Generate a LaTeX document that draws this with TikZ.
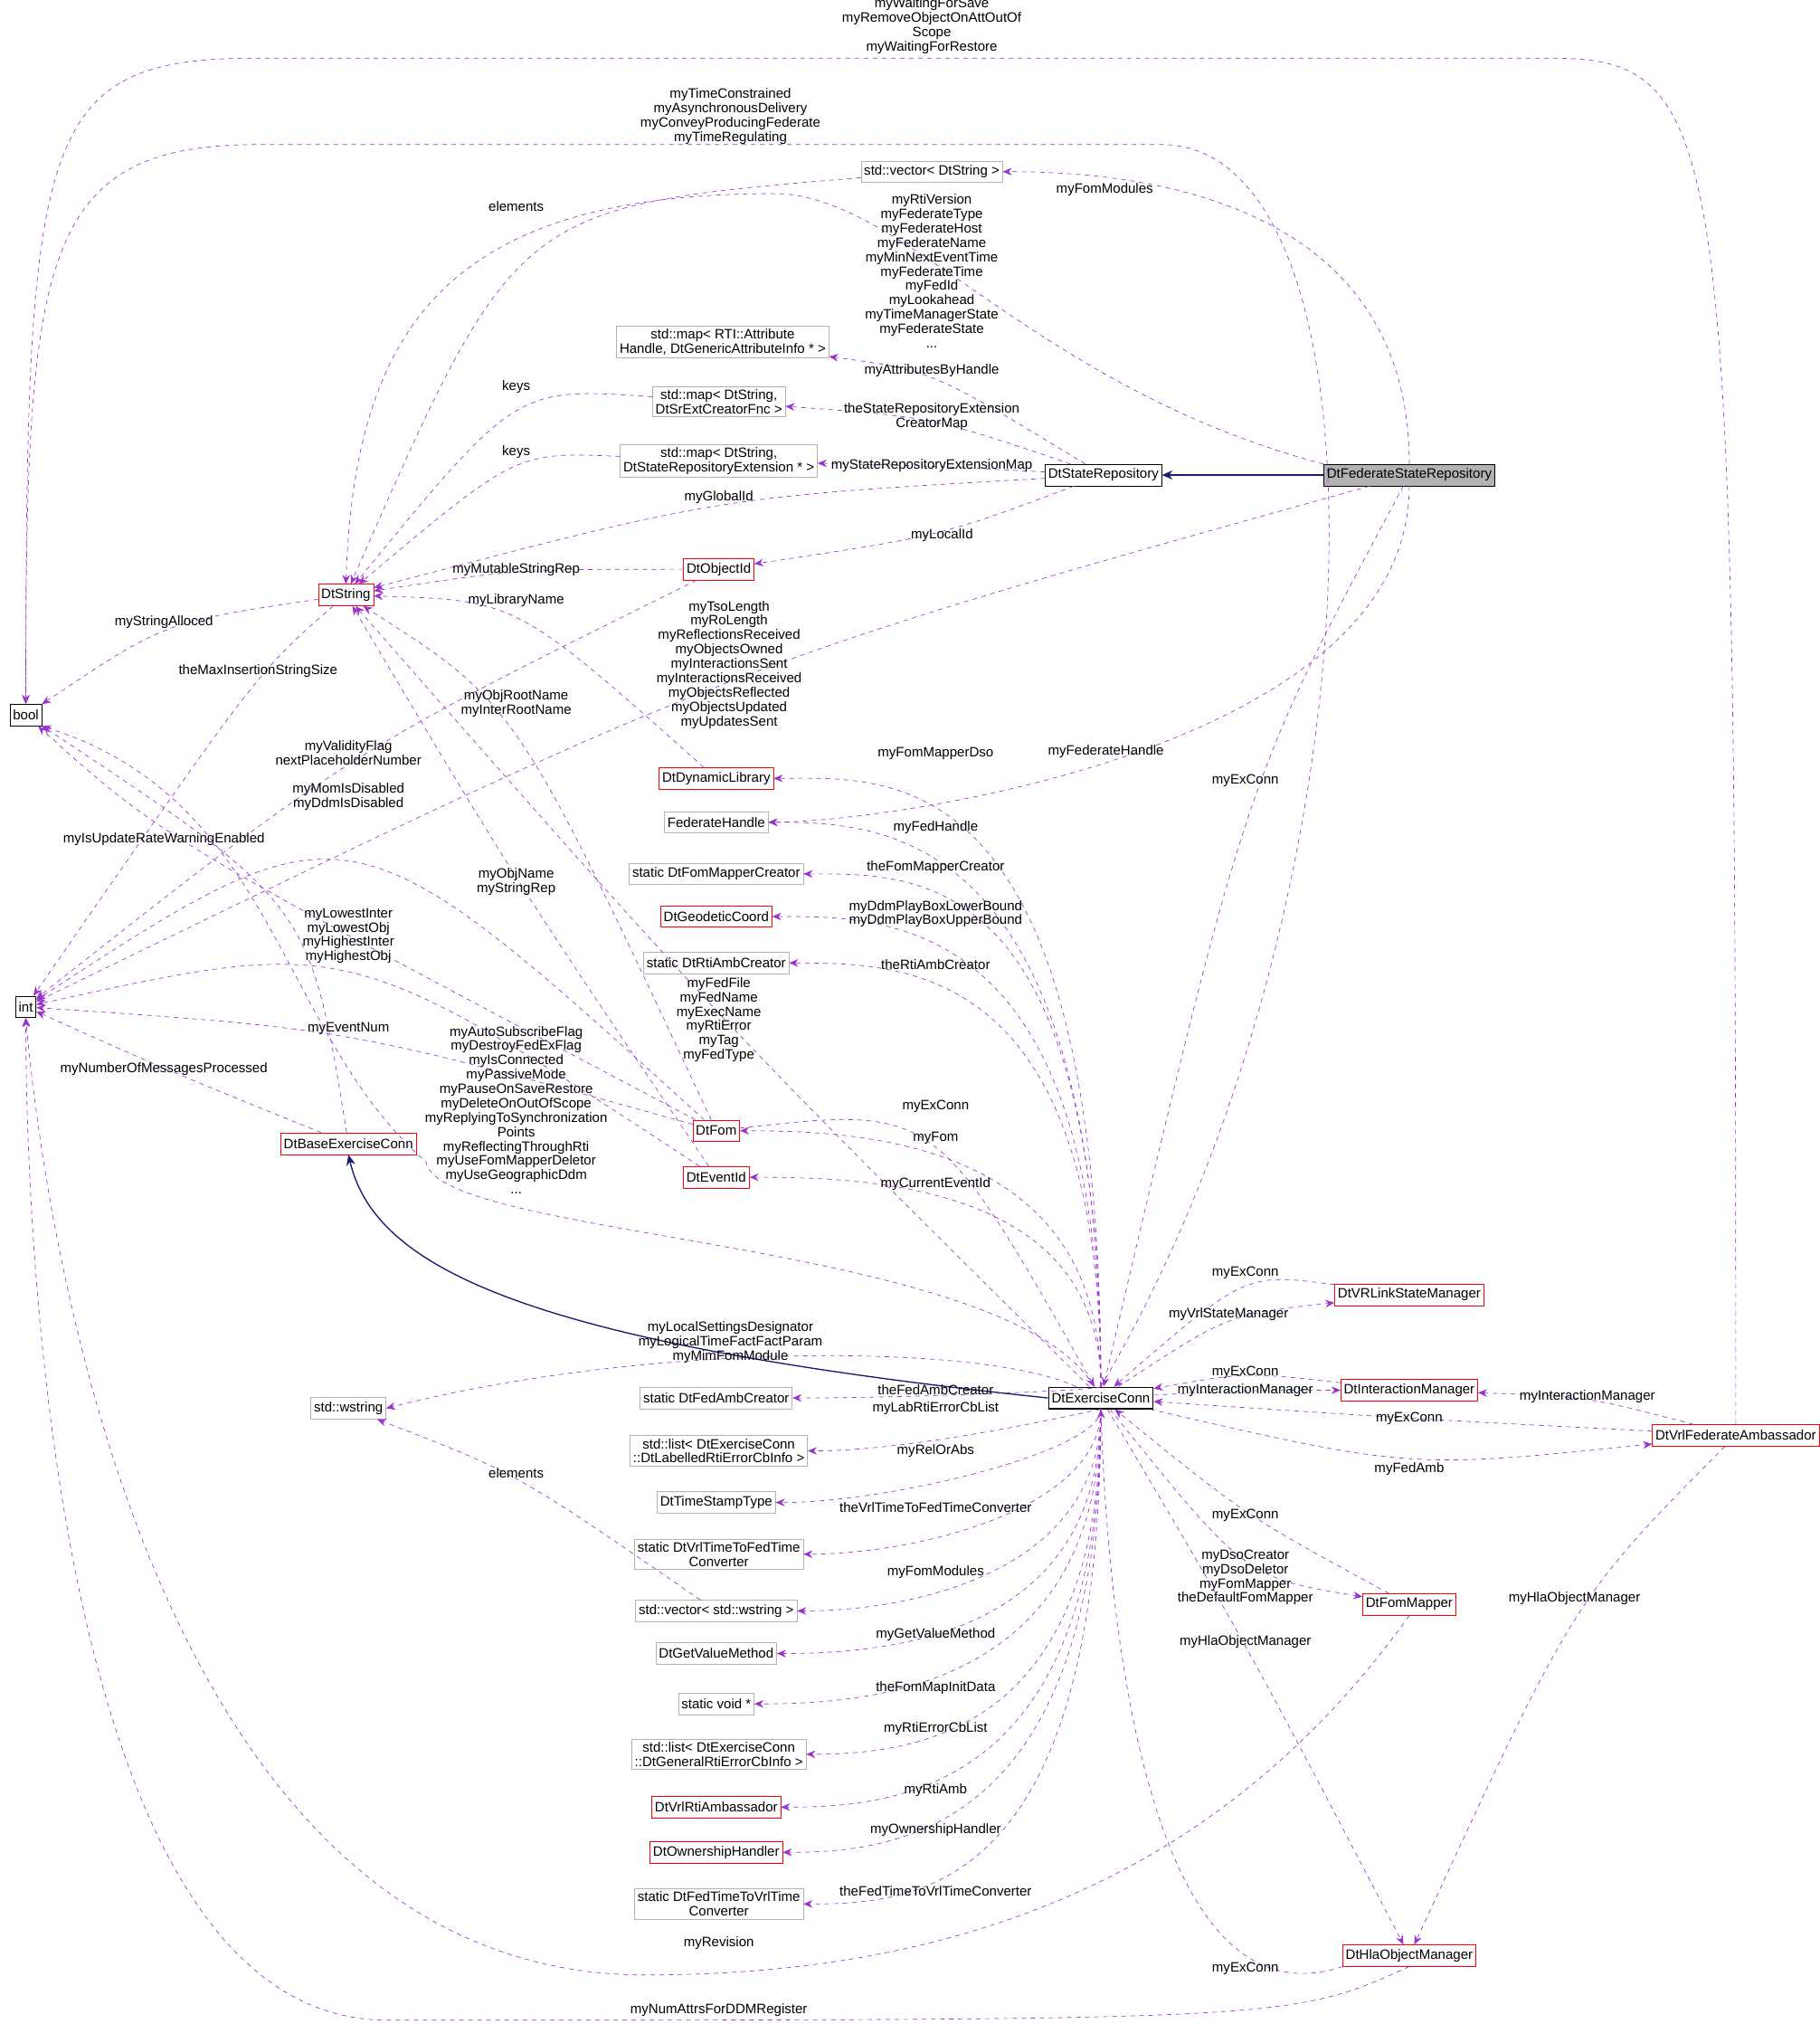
\documentclass[tikz,border=0pt]{standalone}
\usepackage{fontspec}
\setmainfont{Liberation Sans}
\usetikzlibrary{arrows.meta,calc}
\definecolor{dep}{HTML}{9A32CD}
\definecolor{inh}{HTML}{191970}
\tikzset{
 cls/.style={draw=black,fill=white,inner sep=2pt,minimum height=0.5cm,align=center},
 ext/.style={cls,draw=gray!60},
 bad/.style={cls,draw=red},
 lbl/.style={align=center,inner sep=0pt},
 dep/.style={draw=dep,dashed,-{Stealth[length=6pt,width=5pt]}},
 inherit/.style={draw=inh,thick,-{Stealth[length=7pt,width=6pt,open,fill=inh]}}
}
% dependency: from, to, label point, label
\newcommand{\dep}[4]{\draw[dep] (#1) .. controls (#3) .. (#2); \node[lbl] at (#3) {#4};}
% dependency entering the east side of its target
\newcommand{\depe}[4]{\draw[dep] (#1) .. controls (#1 |- #3) and ($(#2.east)+(90,0)$) .. (#2.east); \node[lbl] at (#3) {#4};}
\begin{document}
\begin{tikzpicture}[x=0.03cm,y=-0.03cm,font=\fontsize{9}{9.5}\selectfont]
 \useasboundingbox (0,0) rectangle (1410,1568);
 % classes
 \node[cls,fill=gray!60] (fsr) at (1092,368) {DtFederateStateRepository};
 \node[cls] (sr) at (855,368) {DtStateRepository};
 \node[ext] (vds) at (722,133) {std::vector< DtString >};
 \node[ext] (mah) at (560,265) {std::map< RTI::Attribute\\Handle, DtGenericAttributeInfo * >};
 \node[ext] (msc) at (557,311) {std::map< DtString,\\DtSrExtCreatorFnc >};
 \node[ext] (mse) at (557,357) {std::map< DtString,\\DtStateRepositoryExtension * >};
 \node[bad] (oid) at (557,441) {DtObjectId};
 \node[bad] (str) at (268,461) {DtString};
 \node[cls] (bool) at (20,554) {bool};
 \node[cls] (int) at (20,780) {int};
 \node[bad] (dyn) at (555,603) {DtDynamicLibrary};
 \node[ext] (fh) at (555,637) {FederateHandle};
 \node[ext] (fmc) at (555,677) {static DtFomMapperCreator};
 \node[bad] (geo) at (555,710) {DtGeodeticCoord};
 \node[ext] (rac) at (555,746) {static DtRtiAmbCreator};
 \node[bad] (fom) at (555,876) {DtFom};
 \node[bad] (eid) at (555,912) {DtEventId};
 \node[bad] (bec) at (270,886) {DtBaseExerciseConn};
 \node[cls,thick] (ec) at (853,1083) {DtExerciseConn};
 \node[ext] (ws) at (270,1091) {std::wstring};
 \node[ext] (fac) at (555,1083) {static DtFedAmbCreator};
 \node[ext] (lle) at (557,1124) {std::list< DtExerciseConn\\::DtLabelledRtiErrorCbInfo >};
 \node[ext] (tst) at (555,1164) {DtTimeStampType};
 \node[ext] (v2f) at (557,1204) {static DtVrlTimeToFedTime\\Converter};
 \node[ext] (vws) at (555,1248) {std::vector< std::wstring >};
 \node[ext] (gvm) at (555,1281) {DtGetValueMethod};
 \node[ext] (svp) at (555,1320) {static void *};
 \node[ext] (lge) at (557,1359) {std::list< DtExerciseConn\\::DtGeneralRtiErrorCbInfo >};
 \node[bad] (vra) at (555,1400) {DtVrlRtiAmbassador};
 \node[bad] (own) at (555,1435) {DtOwnershipHandler};
 \node[ext] (f2v) at (557,1475) {static DtFedTimeToVrlTime\\Converter};
 \node[bad] (vsm) at (1092,1003) {DtVRLinkStateManager};
 \node[bad] (im) at (1092,1077) {DtInteractionManager};
 \node[bad] (vfa) at (1345,1112) {DtVrlFederateAmbassador};
 \node[bad] (fm) at (1092,1243) {DtFomMapper};
 \node[bad] (hom) at (1092,1515) {DtHlaObjectManager};
 % inheritance
 \draw[inherit] (fsr) -- (sr);
 \draw[inherit] (ec.west) .. controls (400,1040) and (290,980) .. (bec.south);
 % long arcs
 \draw[dep] (vfa.north) .. controls (1345,100) and (1340,45) .. (1200,45) -- (200,45) .. controls (30,45) and (20,100) .. (bool.north);
 \node[lbl] at (722,20) {myWaitingForSave\\myRemoveObjectOnAttOutOf\\Scope\\myWaitingForRestore};
 \draw[dep] (ec.north) .. controls (1075,700) and (1085,112) .. (900,112) -- (200,112) .. controls (30,112) and (20,200) .. (bool.north);
 \node[lbl] at (566,90) {myTimeConstrained\\myAsynchronousDelivery\\myConveyProducingFederate\\myTimeRegulating};
 \draw[dep] (fsr.north west) .. controls (800,300) and (700,150) .. (600,150) .. controls (350,150) and (275,250) .. (str.north);
 \node[lbl] at (722,210) {myRtiVersion\\myFederateType\\myFederateHost\\myFederateName\\myMinNextEventTime\\myFederateTime\\myFedId\\myLookahead\\myTimeManagerState\\myFederateState\\...};
 \draw[dep] (hom.south) .. controls (1000,1565) .. (300,1565) .. controls (30,1565) and (20,900) .. (int.south);
 \node[lbl] at (557,1557) {myNumAttrsForDDMRegister};
 \draw[dep] (fm.south) .. controls (950,1450) and (750,1530) .. (500,1530) .. controls (100,1530) and (30,900) .. (int.south);
 \node[lbl] at (557,1505) {myRevision};
 \draw[dep] (hom.south west) .. controls (900,1570) and (860,1300) .. (ec.south);
 \node[lbl] at (965,1525) {myExConn};
 \draw[dep] (ec) .. controls (780,960) and (340,960) .. (330,900) .. controls (215,800) and (215,620) .. (bool.south east);
 \node[lbl] at (400,860) {myAutoSubscribeFlag\\myDestroyFedExFlag\\myIsConnected\\myPassiveMode\\myPauseOnSaveRestore\\myDeleteOnOutOfScope\\myReplyingToSynchronization\\Points\\myReflectingThroughRti\\myUseFomMapperDeletor\\myUseGeographicDdm\\...};
 \draw[dep] (ec) .. controls (760,1040) and (500,1040) .. (ws.east);
 \node[lbl] at (566,1040) {myLocalSettingsDesignator\\myLogicalTimeFactFactParam\\myMimFomModule};
 % dependencies
 \depe{fsr}{vds}{856,147}{myFomModules}
 \dep{sr}{mah}{722,287}{myAttributesByHandle}
 \dep{sr}{msc}{722,323}{theStateRepositoryExtension\\CreatorMap}
 \dep{sr}{mse}{722,361}{myStateRepositoryExtensionMap}
 \dep{sr}{str}{557,385}{myGlobalId}
 \dep{sr}{oid}{730,415}{myLocalId}
 \dep{fsr}{int}{565,515}{myTsoLength\\myRoLength\\myReflectionsReceived\\myObjectsOwned\\myInteractionsSent\\myInteractionsReceived\\myObjectsReflected\\myObjectsUpdated\\myUpdatesSent}
 \depe{fsr}{fh}{857,582}{myFederateHandle}
 \dep{fsr}{ec}{965,605}{myExConn}
 \dep{vds}{str}{400,160}{elements}
 \dep{msc}{str}{400,300}{keys}
 \dep{mse}{str}{400,350}{keys}
 \dep{oid}{str}{400,441}{myMutableStringRep}
 \dep{oid}{int}{270,583}{myValidityFlag\\nextPlaceholderNumber}
 \dep{str}{bool}{127,482}{myStringAlloced}
 \dep{str}{int}{200,520}{theMaxInsertionStringSize}
 \dep{dyn}{str}{400,465}{myLibraryName}
 \dep{fom}{str}{400,545}{myObjRootName\\myInterRootName}
 \dep{fom}{int}{270,617}{myMomIsDisabled\\myDdmIsDisabled}
 \dep{fom}{bool}{127,650}{myIsUpdateRateWarningEnabled}
 \dep{eid}{str}{400,683}{myObjName\\myStringRep}
 \dep{eid}{int}{270,725}{myLowestInter\\myLowestObj\\myHighestInter\\myHighestObj}
 \dep{fom}{int}{270,797}{myEventNum}
 \dep{bec}{int}{127,828}{myNumberOfMessagesProcessed}
 \draw[dep] (bec) .. controls (240,700) .. (bool);
 \dep{ec}{str}{557,790}{myFedFile\\myFedName\\myExecName\\myRtiError\\myTag\\myFedType}
 \depe{ec}{dyn}{725,584}{myFomMapperDso}
 \depe{ec}{fh}{725,641}{myFedHandle}
 \depe{ec}{fmc}{725,672}{theFomMapperCreator}
 \depe{ec}{geo}{725,708}{myDdmPlayBoxLowerBound\\myDdmPlayBoxUpperBound}
 \depe{ec}{rac}{725,747}{theRtiAmbCreator}
 \dep{fom}{ec}{725,857}{myExConn}
 \depe{ec}{fom}{725,882}{myFom}
 \depe{ec}{eid}{725,917}{myCurrentEventId}
 \depe{ec}{fac}{725,1077}{theFedAmbCreator}
 \depe{ec}{lle}{725,1091}{myLabRtiErrorCbList}
 \depe{ec}{tst}{725,1124}{myRelOrAbs}
 \depe{ec}{v2f}{725,1168}{theVrlTimeToFedTimeConverter}
 \depe{ec}{vws}{725,1218}{myFomModules}
 \dep{vws}{ws}{400,1141}{elements}
 \depe{ec}{gvm}{725,1266}{myGetValueMethod}
 \depe{ec}{svp}{725,1308}{theFomMapInitData}
 \depe{ec}{lge}{725,1339}{myRtiErrorCbList}
 \depe{ec}{vra}{725,1387}{myRtiAmb}
 \depe{ec}{own}{725,1418}{myOwnershipHandler}
 \depe{ec}{f2v}{725,1465}{theFedTimeToVrlTimeConverter}
 \dep{vsm}{ec}{965,986}{myExConn}
 \dep{ec}{vsm}{952,1018}{myVrlStateManager}
 \dep{im}{ec}{965,1063}{myExConn}
 \dep{ec}{im}{965,1077}{myInteractionManager}
 \dep{vfa}{ec}{1092,1099}{myExConn}
 \dep{ec}{vfa}{1092,1138}{myFedAmb}
 \dep{vfa}{im}{1230,1082}{myInteractionManager}
 \dep{vfa}{hom}{1220,1238}{myHlaObjectManager}
 \dep{fm}{ec}{965,1174}{myExConn}
 \dep{ec}{fm}{965,1222}{myDsoCreator\\myDsoDeletor\\myFomMapper\\theDefaultFomMapper}
 \dep{ec}{hom}{965,1272}{myHlaObjectManager}
\end{tikzpicture}
\end{document}
